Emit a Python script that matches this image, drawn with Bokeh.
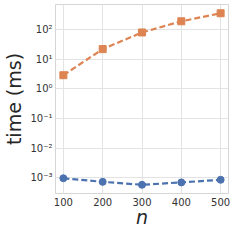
from bokeh.plotting import figure
from bokeh.models import FixedTicker, CustomJSTickFormatter, Range1d
from bokeh.embed import file_html
from bokeh.resources import INLINE

n_values = [100, 200, 300, 400, 500]
slow_times = [2.9, 22.0, 80.0, 190.0, 355.0]
fast_times = [0.00098, 0.00074, 0.00059, 0.00071, 0.00087]
x_ticks = [100, 200, 300, 400, 500]
y_ticks = [1e-3, 1e-2, 1e-1, 1e0, 1e1, 1e2]

p = figure(width=230, height=230, output_backend="svg", toolbar_location=None,
           y_axis_type="log", x_range=Range1d(80, 520), y_range=Range1d(3.0e-4, 700),
           min_border_left=41, min_border_right=2, min_border_top=4, min_border_bottom=0)

p.line(n_values, slow_times, line_color="#dd8452", line_width=2.2, line_dash="6 3")
p.scatter(n_values, slow_times, marker="square", size=7, fill_color="#dd8452", line_color="#dd8452")
p.line(n_values, fast_times, line_color="#4c72b0", line_width=2.2, line_dash="6 3")
p.scatter(n_values, fast_times, marker="circle", size=7, fill_color="#4c72b0", line_color="#4c72b0")

p.xaxis.ticker = FixedTicker(ticks=x_ticks)
p.yaxis.ticker = FixedTicker(ticks=y_ticks)
p.yaxis.formatter = CustomJSTickFormatter(code="""
const e = Math.round(Math.log10(tick));
const sup = {'0':'\u2070','1':'\u00b9','2':'\u00b2','3':'\u00b3','4':'\u2074','5':'\u2075','6':'\u2076','7':'\u2077','8':'\u2078','9':'\u2079','-':'\u207b'};
return '10' + String(e).split('').map(c => sup[c]).join('');
""")

for ax in (p.xaxis, p.yaxis):
    ax.axis_line_color = None
    ax.major_tick_line_color = None
    ax.minor_tick_line_color = None
    ax.major_tick_out = 0
    ax.major_tick_in = 0
    ax.minor_tick_out = 0
    ax.minor_tick_in = 0
    ax.major_label_text_font = "DejaVu Sans"
    ax.major_label_text_font_size = "10px"
    ax.major_label_text_color = "#333333"
    ax.major_label_standoff = 3
    ax.axis_label_text_font = "DejaVu Sans"
    ax.axis_label_text_color = "#262626"
    ax.axis_label_standoff = 2

p.xaxis.axis_label = "n"
p.xaxis.axis_label_text_font_style = "italic"
p.xaxis.axis_label_text_font_size = "19px"
p.xaxis.axis_label_standoff = -3
p.xaxis.major_label_standoff = 4
p.yaxis.axis_label = "time (ms)"
p.yaxis.axis_label_text_font_style = "normal"
p.yaxis.axis_label_text_font_size = "19px"

p.xgrid.grid_line_color = "#e3e3e3"
p.ygrid.grid_line_color = "#e3e3e3"
p.xgrid.grid_line_width = 1
p.ygrid.grid_line_width = 1
p.ygrid.minor_grid_line_color = None
p.outline_line_color = "#d6d6d6"
p.outline_line_width = 1
p.background_fill_color = "white"
p.border_fill_color = "white"

open("out.html", "w").write(file_html(p, INLINE))
